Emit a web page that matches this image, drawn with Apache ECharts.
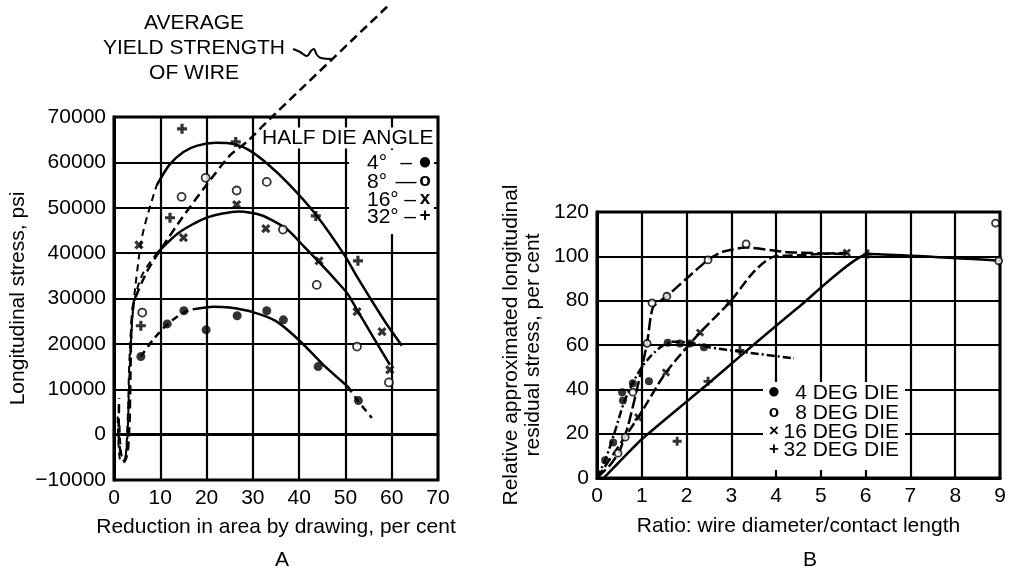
<!DOCTYPE html>
<html>
<head>
<meta charset="utf-8">
<script src="https://cdn.jsdelivr.net/npm/echarts@6/dist/echarts.min.js"></script>
<style>
html,body{margin:0;padding:0;background:#fff;}
#chart{width:1012px;height:573px;}
</style>
</head>
<body>
<div id="chart"></div>
<script>
// ---------- Panel A data (reduction in area %, longitudinal stress psi) ----------
const aPts4  = [[5.8,17200],[11.5,24400],[15.1,27300],[19.9,23100],[26.6,26200],[33,27300],[36.6,25300],[44.1,15000],[52.8,7500]];
const aPts8  = [[6.1,26900],[14.6,52400],[19.8,56600],[26.5,53800],[33,55700],[36.5,45200],[43.8,33000],[52.5,19400],[59.4,11500]];
const aPts16 = [[5.4,41800],[15,43400],[26.5,50700],[32.8,45400],[44.3,38300],[52.5,27100],[57.9,22700],[59.6,14300]];
const aPts32 = [[5.8,24000],[12.1,47800],[14.7,67400],[26.3,64500],[43.6,48200],[52.7,38300]];

const aCurve4Start = [[5.8,17200],[8.5,21000],[11.5,24300],[15,26900],[17,27600]];
const aCurve4Main  = [[17,27600],[21.5,28200],[25,28000],[30,27000],[35,25000],[40,20800],[45,15600],[50.5,10600]];
const aCurve4End   = [[50.5,10600],[52.8,7300],[55.7,3700]];

const aCurve16Dash = [[1.2,2000],[1.6,-4500],[2.3,-5200],[2.9,2000],[3.4,18000],[4.2,28000],[6,35000],[9.3,40000]];
const aCurve16Main = [[9.3,40000],[14,44500],[20,47800],[27,49200],[32,48300],[37.3,45300],[41,41500],[44.3,38000],[47.5,34500],[50.5,31000],[52.5,27500],[56,21500],[59.6,15400]];

const aCurve32Dash = [[0.8,4000],[1.2,-5000],[2,-6200],[2.8,-2000],[3.3,12000],[4,26000],[5,36000],[6.3,44700],[9.2,54900]];
const aCurve32Main = [[9.2,54900],[12,59500],[15,62300],[18,63700],[22,64300],[26,64000],[29,62800],[33,59800],[38,55000],[43.6,48500],[49.9,39400],[52.5,34800],[56,29000],[59,24200],[62.2,19600]];

const aYield = [[59,94300],[34.1,70000],[28.7,64500],[25,61500],[19.8,54800],[14.6,47600],[10.6,41600],[7.1,35900],[4.1,28400],[3.6,16000],[3.4,4000],[3.0,-3500],[2.3,-5900],[1.5,-4500],[1.0,0],[1.1,8000]];

const aXRange = [0, 70, 10];
const aYRange = [-10000, 70000, 10000];

// ---------- Panel B data (ratio diameter/contact length, relative stress %) ----------
const bPts4  = [[0.18,8],[0.36,16],[0.56,38.7],[0.58,35],[0.8,42.7],[1.16,43.6],[1.58,61],[1.85,60.7],[2.08,60.7],[2.39,59]];
const bPts8  = [[0.47,11.2],[0.63,18.4],[0.8,38.7],[1.12,60.7],[1.23,79],[1.56,82],[2.48,98.4],[3.33,105.6],[8.9,115],[8.97,98]];
const bPts16 = [[0.92,27.4],[1.54,47.6],[2.3,65.6],[2.95,79],[5.58,101.6]];
const bPts32 = [[1.79,16.6],[2.48,43.6],[3.19,57.5],[6.05,101]];

const bCurve4  = [[0,0],[0.2,9],[0.4,21],[0.6,34],[0.8,43],[1.0,50],[1.2,55],[1.45,59.5],[1.7,61.5],[2.1,61],[2.5,59],[3.2,57],[4.4,54]];
const bCurve8  = [[0,0],[0.3,6],[0.5,12],[0.7,24],[0.96,46],[1.12,61],[1.25,77],[1.56,82],[2.0,90],[2.48,98.4],[2.8,102],[3.33,104],[4.2,102],[5.5,101]];
const bCurve16 = [[0,0],[0.92,27.4],[1.54,47.6],[2.3,65.6],[2.95,79],[3.5,93],[3.9,99.5],[4.5,100.5],[5.58,101.6]];
const bCurve32 = [[0.15,0],[1.0,17.5],[2.48,42.5],[3.2,55],[4.5,77],[6.05,101],[9,98]];

const bXRange = [0, 9, 1];
const bYRange = [0, 120, 20];

// ---------- Text ----------
const aXTitle = 'Reduction in area by drawing, per cent';
const aYTitle = 'Longitudinal stress, psi';
const bXTitle = 'Ratio: wire diameter/contact length';
const bYTitle = 'Relative approximated longitudinal\nresidual stress, per cent';
const yieldLabel = 'AVERAGE\nYIELD STRENGTH\nOF WIRE';
const aLegendTitle = 'HALF DIE ANGLE';
const aLegendLabels = ['4°', '8°', '16°', '32°'];
const aLegendDashes = ['–', '—', '–', '–'];
const aLegendMarks = ['●', 'o', 'x', '+'];
const bLegendLabels = ['4 DEG DIE', '8 DEG DIE', '16 DEG DIE', '32 DEG DIE'];
const bLegendMarks = ['●', 'o', '×', '+'];

// ---------- Chart ----------
const FONT = "'Liberation Sans', Arial, Helvetica, sans-serif";
const FS = 21;
const PLUS = 'path://M3.4,0H6.6V3.4H10V6.6H6.6V10H3.4V6.6H0V3.4H3.4Z';

function lineS(data, ax, type, width, sm) {
  return {
    type: 'line', data: data, xAxisIndex: ax, yAxisIndex: ax,
    smooth: sm == null ? 0.25 : sm, showSymbol: false, symbol: 'none', silent: true,
    lineStyle: { color: '#000', width: width || 2.5, type: type || 'solid' },
    z: 3
  };
}
function scatS(data, ax, kind, size) {
  const s = { type: 'scatter', data: data, xAxisIndex: ax, yAxisIndex: ax, silent: true, z: 5,
    symbolSize: size || 9, itemStyle: { color: '#000' } };
  if (kind === 'dot') { s.symbol = 'circle'; }
  if (kind === 'open') { s.symbol = 'circle'; s.symbolSize = (size || 9) - 1; s.itemStyle = { color: '#fff', borderColor: '#000', borderWidth: 1.8 }; }
  if (kind === 'plus') { s.symbol = PLUS; s.symbolSize = (size || 9) + 1; }
  if (kind === 'x') { s.symbol = PLUS; s.symbolRotate = 45; s.symbolSize = (size || 9) + 1; }
  return s;
}

function mkAxisX(range, gi, name, gap) {
  return {
    type: 'value', gridIndex: gi, min: range[0], max: range[1], interval: range[2],
    axisLine: { show: true, lineStyle: { color: '#000', width: 3 } },
    axisTick: { show: false },
    axisLabel: { color: '#000', fontSize: FS, fontFamily: FONT, margin: 8 },
    splitLine: { show: true, lineStyle: { color: '#000', width: 2.2 } },
    name: name, nameLocation: 'middle', nameGap: gap,
    nameTextStyle: { color: '#000', fontSize: FS, fontFamily: FONT }
  };
}
function mkAxisY(range, gi, name, gap) {
  return {
    type: 'value', gridIndex: gi, min: range[0], max: range[1], interval: range[2],
    axisLine: { show: true, lineStyle: { color: '#000', width: 3 } },
    axisTick: { show: false },
    axisLabel: { color: '#000', fontSize: FS, fontFamily: FONT, margin: 8,
      formatter: v => String(v).replace('-', '\u2212') },
    splitLine: { show: true, lineStyle: { color: '#000', width: 2.2 } },
    name: name, nameLocation: 'middle', nameGap: gap,
    nameTextStyle: { color: '#000', fontSize: FS, fontFamily: FONT, lineHeight: 22 }
  };
}

const graphics = [];
// yield strength annotation
graphics.push({ type: 'text', x: 194, y: 48, z: 10,
  style: { text: yieldLabel, fontSize: FS, fontFamily: FONT, fill: '#000', align: 'center', verticalAlign: 'middle', lineHeight: 25 } });
graphics.push({ type: 'polyline', z: 10,
  shape: { points: [[293,49],[300,52],[307,56],[311,51],[314,49],[317,55],[321,58],[333,59]], smooth: 0.4 },
  style: { stroke: '#000', lineWidth: 2, fill: null } });
// panel A legend
graphics.push({ type: 'rect', z: 1, shape: { x: 349, y: 150, width: 85, height: 84 }, style: { fill: '#fff' } });
graphics.push({ type: 'text', x: 262, y: 138, z: 10,
  style: { text: aLegendTitle, fontSize: FS, fontFamily: FONT, fill: '#000', align: 'left', verticalAlign: 'middle',
    backgroundColor: '#fff', padding: [0, 2, 0, 0] } });
const aRowY = [163, 182, 200, 217];
aLegendLabels.forEach((t, i) => {
  graphics.push({ type: 'text', x: 367, y: aRowY[i], z: 10,
    style: { text: t, fontSize: FS, fontFamily: FONT, fill: '#000', align: 'left', verticalAlign: 'middle' } });
  graphics.push({ type: 'text', x: i < 2 ? 406 : 410, y: aRowY[i], z: 10,
    style: { text: aLegendDashes[i], fontSize: FS, fontFamily: FONT, fill: '#000', align: 'center', verticalAlign: 'middle' } });
  graphics.push({ type: 'text', x: 425, y: aRowY[i] - 1, z: 10,
    style: { text: aLegendMarks[i], fontSize: i === 0 ? 24 : 19, fontFamily: FONT, fontWeight: 'bold', fill: '#000', align: 'center', verticalAlign: 'middle' } });
});
// panel B legend
graphics.push({ type: 'rect', z: 1, shape: { x: 763, y: 382, width: 142, height: 88 }, style: { fill: '#fff' } });
const bRowY = [393, 413, 432, 450];
bLegendLabels.forEach((t, i) => {
  graphics.push({ type: 'text', x: 899, y: bRowY[i], z: 10,
    style: { text: t, fontSize: FS, fontFamily: FONT, fill: '#000', align: 'right', verticalAlign: 'middle' } });
  graphics.push({ type: 'text', x: 774, y: bRowY[i] - 1, z: 10,
    style: { text: bLegendMarks[i], fontSize: i === 0 ? 22 : 17, fontFamily: FONT, fontWeight: 'bold', fill: '#000', align: 'center', verticalAlign: 'middle' } });
});
// panel letters
graphics.push({ type: 'text', x: 282, y: 560, z: 10,
  style: { text: 'A', fontSize: FS, fontFamily: FONT, fill: '#000', align: 'center', verticalAlign: 'middle' } });
graphics.push({ type: 'text', x: 810, y: 560, z: 10,
  style: { text: 'B', fontSize: FS, fontFamily: FONT, fill: '#000', align: 'center', verticalAlign: 'middle' } });

const option = {
  animation: false,
  backgroundColor: '#fff',
  grid: [
    { left: 114, top: 117, width: 324, height: 363, show: true, borderColor: '#000', borderWidth: 3, backgroundColor: 'transparent' },
    { left: 597, top: 212, width: 403, height: 266, show: true, borderColor: '#000', borderWidth: 3, backgroundColor: 'transparent' }
  ],
  xAxis: [ mkAxisX(aXRange, 0, aXTitle, 37), mkAxisX(bXRange, 1, bXTitle, 38) ],
  yAxis: [ mkAxisY(aYRange, 0, aYTitle, 85), mkAxisY(bYRange, 1, bYTitle, 53) ],
  graphic: { elements: graphics },
  series: [
    lineS(aCurve4Start, 0, [7, 5]),
    lineS(aCurve4Main, 0),
    lineS(aCurve4End, 0, [7, 5]),
    lineS(aCurve16Dash, 0, [7, 5], 2, 0.35),
    lineS(aCurve16Main, 0),
    lineS(aCurve32Dash, 0, [7, 5], 2, 0.35),
    lineS(aCurve32Main, 0),
    Object.assign(lineS(aYield, 0, [9, 5], 2.5, 0.2), { clip: false }),
    scatS(aPts4, 0, 'dot', 9),
    scatS(aPts8, 0, 'open', 9),
    scatS(aPts16, 0, 'x', 9),
    scatS(aPts32, 0, 'plus', 9),

    lineS(bCurve4, 1, [8, 3, 2, 3]),
    lineS(bCurve8, 1, [12, 4], 2.5, 0.2),
    lineS(bCurve16, 1, [10, 4]),
    lineS(bCurve32, 1, 'solid', 2.5, 0.15),
    scatS(bPts4, 1, 'dot', 8),
    scatS(bPts8, 1, 'open', 8),
    scatS(bPts16, 1, 'x', 8),
    scatS(bPts32, 1, 'plus', 8)
  ]
};

const chart = echarts.init(document.getElementById('chart'), null, { renderer: 'canvas' });
chart.setOption(option);
</script>
</body>
</html>
